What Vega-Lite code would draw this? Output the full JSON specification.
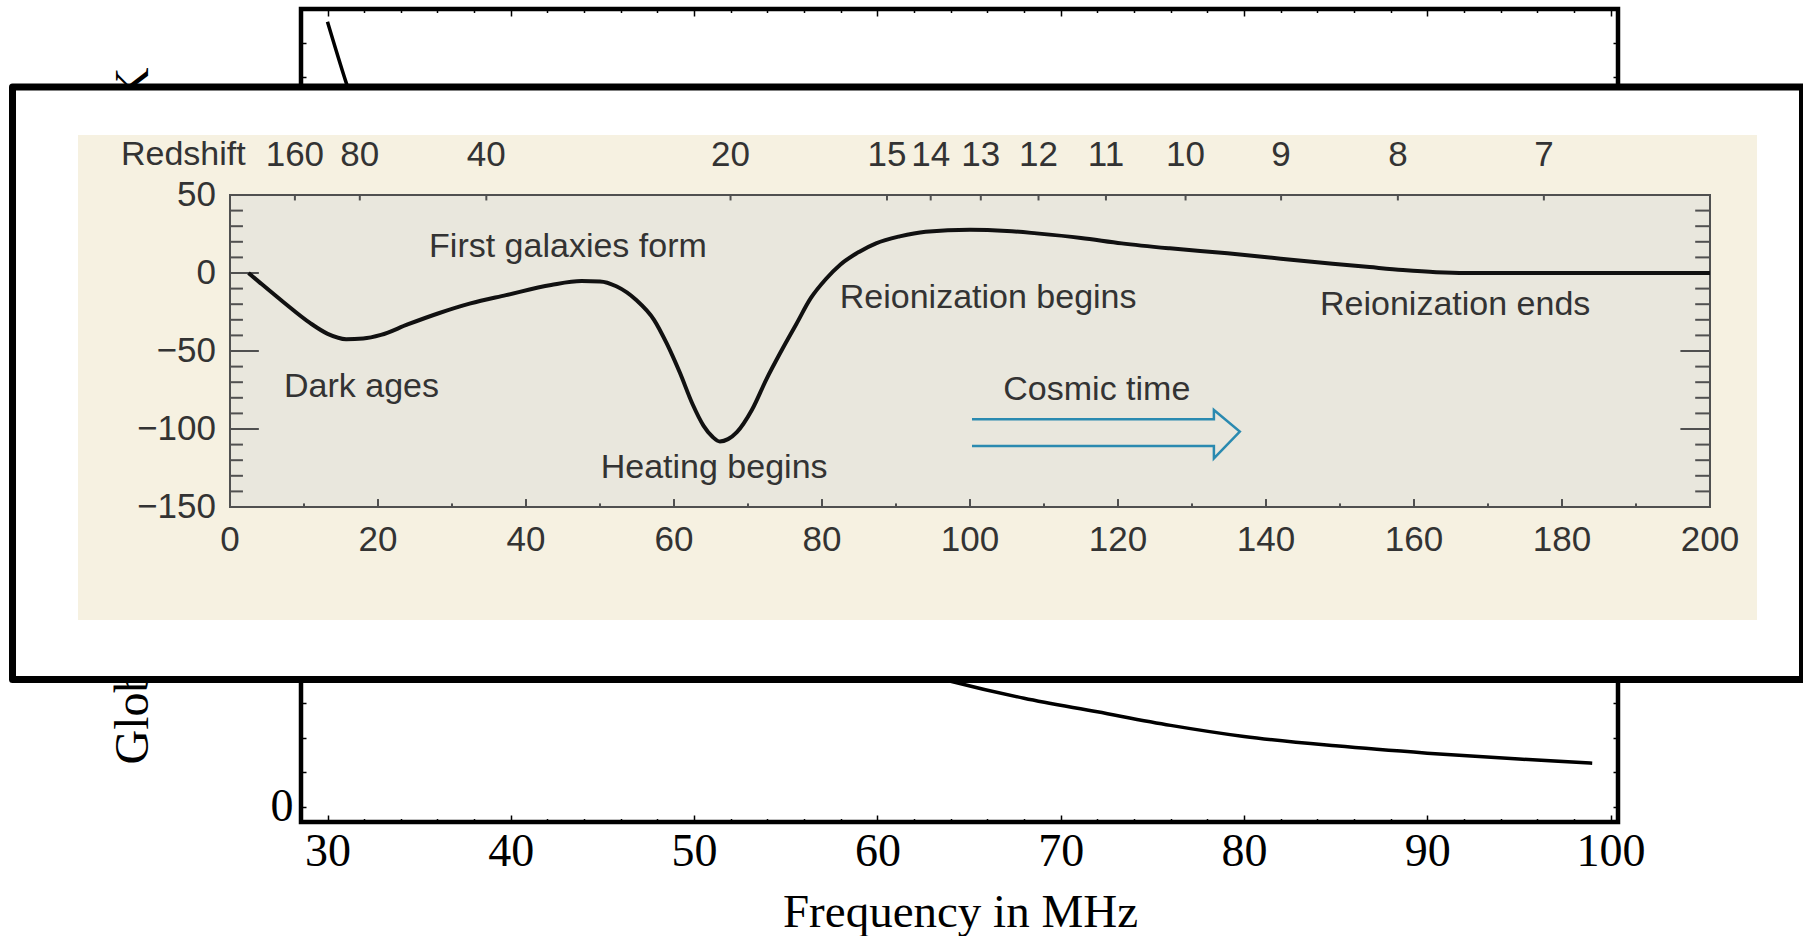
{
  "$schema": "https://vega.github.io/schema/vega-lite/v6.json",
  "width": 1317,
  "height": 813,
  "autosize": {"type": "none"},
  "padding": {"left": 301, "top": 9, "right": 185, "bottom": 114},
  "background": "#ffffff",
  "config": {"view": {"stroke": "#000000", "strokeWidth": 4.5, "fill": null}},
  "datasets": {
    "sky": [
      {"freq": 30, "temp": 22.6}, {"freq": 31, "temp": 20.88}, {"freq": 32, "temp": 19.33}, {"freq": 34, "temp": 16.69},
      {"freq": 36, "temp": 14.54}, {"freq": 38, "temp": 12.76}, {"freq": 40, "temp": 11.27}, {"freq": 43, "temp": 9.46},
      {"freq": 46, "temp": 8.03}, {"freq": 50, "temp": 6.57}, {"freq": 55, "temp": 5.21}, {"freq": 60, "temp": 4.22},
      {"freq": 64, "temp": 3.62}, {"freq": 68, "temp": 3.13}, {"freq": 72, "temp": 2.74}, {"freq": 76, "temp": 2.35},
      {"freq": 80, "temp": 2.03}, {"freq": 85, "temp": 1.76}, {"freq": 90, "temp": 1.55}, {"freq": 95, "temp": 1.38},
      {"freq": 99, "temp": 1.26}
    ],
    "box": [{"f": -29.39, "f2": 212.5, "b": 119.2, "b2": -260.6}],
    "photo": [{"f": -20.54, "f2": 206.35, "b": 88.46, "b2": -222.4}],
    "plotarea": [{"f": 0, "f2": 200, "b": 50, "b2": -150}],
    "curve": [
      {"f": 2.5, "b": 0}, {"f": 4, "b": -6}, {"f": 7.2, "b": -18.6}, {"f": 10.8, "b": -32}, {"f": 13.2, "b": -39},
      {"f": 15.7, "b": -42.4}, {"f": 18, "b": -42}, {"f": 20.4, "b": -39.7}, {"f": 24, "b": -33}, {"f": 28.2, "b": -25.8},
      {"f": 32.5, "b": -19.5}, {"f": 37.3, "b": -14.2}, {"f": 43.4, "b": -7.7}, {"f": 47.5, "b": -5.2}, {"f": 50, "b": -5.4},
      {"f": 52.2, "b": -8.5}, {"f": 54.9, "b": -17.3}, {"f": 57.3, "b": -30}, {"f": 59, "b": -45}, {"f": 60.8, "b": -64},
      {"f": 62.5, "b": -84}, {"f": 64, "b": -98}, {"f": 65.2, "b": -105}, {"f": 66.2, "b": -108}, {"f": 67.3, "b": -106.5},
      {"f": 68.5, "b": -102}, {"f": 70.5, "b": -88}, {"f": 72.5, "b": -68}, {"f": 74.5, "b": -50}, {"f": 76.5, "b": -33},
      {"f": 78.5, "b": -16}, {"f": 80.5, "b": -4}, {"f": 82.5, "b": 5.5}, {"f": 85, "b": 13.5}, {"f": 87.3, "b": 19},
      {"f": 90.5, "b": 23.5}, {"f": 94, "b": 26.5}, {"f": 100, "b": 27.8}, {"f": 105, "b": 27}, {"f": 109, "b": 25.4},
      {"f": 115, "b": 22.5}, {"f": 120.5, "b": 19}, {"f": 127, "b": 15.8}, {"f": 134.8, "b": 12.6}, {"f": 142, "b": 9.2},
      {"f": 149, "b": 6}, {"f": 154, "b": 3.8}, {"f": 158.5, "b": 1.9}, {"f": 163, "b": 0.5}, {"f": 167, "b": 0},
      {"f": 180, "b": 0}, {"f": 200, "b": 0}
    ],
    "xticks": [
      {"f": 10, "major": false}, {"f": 20, "major": true}, {"f": 30, "major": false}, {"f": 40, "major": true},
      {"f": 50, "major": false}, {"f": 60, "major": true}, {"f": 70, "major": false}, {"f": 80, "major": true},
      {"f": 90, "major": false}, {"f": 100, "major": true}, {"f": 110, "major": false}, {"f": 120, "major": true},
      {"f": 130, "major": false}, {"f": 140, "major": true}, {"f": 150, "major": false}, {"f": 160, "major": true},
      {"f": 170, "major": false}, {"f": 180, "major": true}, {"f": 190, "major": false}
    ],
    "yticks": [
      {"b": 40, "major": false}, {"b": 30, "major": false}, {"b": 20, "major": false}, {"b": 10, "major": false},
      {"b": 0, "major": true}, {"b": -10, "major": false}, {"b": -20, "major": false}, {"b": -30, "major": false},
      {"b": -40, "major": false}, {"b": -50, "major": true}, {"b": -60, "major": false}, {"b": -70, "major": false},
      {"b": -80, "major": false}, {"b": -90, "major": false}, {"b": -100, "major": true}, {"b": -110, "major": false},
      {"b": -120, "major": false}, {"b": -130, "major": false}, {"b": -140, "major": false}
    ],
    "zticks": [
      {"f": 8.77, "z": "160"}, {"f": 17.54, "z": "80"}, {"f": 34.64, "z": "40"}, {"f": 67.64, "z": "20"},
      {"f": 88.78, "z": "15"}, {"f": 94.69, "z": "14"}, {"f": 101.46, "z": "13"}, {"f": 109.26, "z": "12"},
      {"f": 118.37, "z": "11"}, {"f": 129.13, "z": "10"}, {"f": 142.04, "z": "9"}, {"f": 157.82, "z": "8"},
      {"f": 177.55, "z": "7"}
    ],
    "xlabels": [
      {"f": 0, "label": "0"}, {"f": 20, "label": "20"}, {"f": 40, "label": "40"}, {"f": 60, "label": "60"},
      {"f": 80, "label": "80"}, {"f": 100, "label": "100"}, {"f": 120, "label": "120"}, {"f": 140, "label": "140"},
      {"f": 160, "label": "160"}, {"f": 180, "label": "180"}, {"f": 200, "label": "200"}
    ],
    "ylabels": [
      {"b": 50, "label": "50"}, {"b": 0, "label": "0"}, {"b": -50, "label": "−50"}, {"b": -100, "label": "−100"},
      {"b": -150, "label": "−150"}
    ],
    "notes": [
      {"f": -14.73, "b": 75.64, "text": "Redshift"},
      {"f": 26.9, "b": 16.7, "text": "First galaxies form"},
      {"f": 82.4, "b": -16.0, "text": "Reionization begins"},
      {"f": 147.3, "b": -20.5, "text": "Reionization ends"},
      {"f": 7.3, "b": -73.1, "text": "Dark ages"},
      {"f": 50.1, "b": -125, "text": "Heating begins"},
      {"f": 104.5, "b": -75, "text": "Cosmic time"}
    ],
    "arrow": [
      {"i": 0, "f": 100.27, "b": -93.8}, {"i": 1, "f": 132.96, "b": -93.8}, {"i": 2, "f": 132.96, "b": -87.8},
      {"i": 3, "f": 136.46, "b": -101.7}, {"i": 4, "f": 132.96, "b": -118.8}, {"i": 5, "f": 132.96, "b": -110.9},
      {"i": 6, "f": 100.27, "b": -110.9}
    ]
  },
  "layer": [
    {
      "layer": [
        {
          "data": {"name": "sky"},
          "mark": {"type": "line", "color": "#000000", "strokeWidth": 3.5, "interpolate": "monotone"},
          "encoding": {
            "x": {"field": "freq", "type": "quantitative", "scale": {"domain": [28.554, 100.407], "nice": false, "zero": false},
              "axis": {"orient": "bottom", "values": [30,32,34,36,38,40,42,44,46,48,50,52,54,56,58,60,62,64,66,68,70,72,74,76,78,80,82,84,86,88,90,92,94,96,98,100],
                "labelExpr": "datum.value % 10 === 0 ? datum.label : ''",
                "tickSize": {"condition": {"test": "datum.value % 10 === 0", "value": -7}, "value": -3.5},
                "tickColor": "#000000", "tickWidth": 1.5, "domain": false, "grid": false,
                "labelFont": "Liberation Serif", "labelFontSize": 46, "labelColor": "#000000", "labelBaseline": "alphabetic",
                "labelPadding": 50, "labelOverlap": false, "labelFlush": false, "labelBound": false,
                "title": "Frequency in MHz", "titleFont": "Liberation Serif", "titleFontSize": 47, "titleFontWeight": "normal",
                "titleColor": "#000000", "titleX": 659, "titleY": 104, "titleAlign": "center", "titleBaseline": "alphabetic", "zindex": 0}},
            "y": {"field": "temp", "type": "quantitative", "scale": {"domain": [-0.432, 22.97], "nice": false, "zero": false},
              "axis": {"orient": "left", "values": [0,1,2,3,4,5,6,7,8,9,10,11,12,13,14,15,16,17,18,19,20,21,22],
                "labelExpr": "datum.value % 5 === 0 ? datum.label : ''",
                "tickSize": -5, "tickColor": "#000000", "tickWidth": 1.5, "domain": false, "grid": false,
                "labelFont": "Liberation Serif", "labelFontSize": 46, "labelColor": "#000000", "labelBaseline": "middle",
                "labelPadding": 13, "labelOverlap": false, "labelFlush": false, "labelBound": false,
                "title": "Global Brightness Temperature in K", "titleFont": "Liberation Serif", "titleFontSize": 48, "titleFontWeight": "normal",
                "titleColor": "#000000", "titleX": -154, "titleY": 406.5, "titleAngle": 270, "titleAlign": "center", "titleBaseline": "alphabetic", "zindex": 0}}
          }
        },
        {
          "data": {"name": "sky"},
          "mark": {"type": "line", "strokeOpacity": 0},
          "encoding": {
            "x": {"field": "freq", "type": "quantitative", "scale": {"domain": [28.554, 100.407], "nice": false, "zero": false},
              "axis": {"orient": "top", "values": [30,32,34,36,38,40,42,44,46,48,50,52,54,56,58,60,62,64,66,68,70,72,74,76,78,80,82,84,86,88,90,92,94,96,98,100],
                "labels": false, "title": null,
                "tickSize": {"condition": {"test": "datum.value % 10 === 0", "value": -7}, "value": -3.5},
                "tickColor": "#000000", "tickWidth": 1.5, "domain": false, "grid": false, "zindex": 0}},
            "y": {"field": "temp", "type": "quantitative", "scale": {"domain": [-0.432, 22.97], "nice": false, "zero": false},
              "axis": {"orient": "right", "values": [0,1,2,3,4,5,6,7,8,9,10,11,12,13,14,15,16,17,18,19,20,21,22],
                "labels": false, "title": null, "tickSize": -5, "tickColor": "#000000", "tickWidth": 1.5, "domain": false, "grid": false, "zindex": 0}}
          }
        }
      ],
      "resolve": {"axis": {"x": "independent", "y": "independent"}}
    },
    {
      "layer": [
        {
          "data": {"name": "box"},
          "mark": {"type": "rect", "fill": "#ffffff", "stroke": "#000000", "strokeWidth": 7, "strokeJoin": "round"},
          "encoding": {
            "x": {"field": "f", "type": "quantitative", "scale": {"domain": [9.595, 187.568], "nice": false, "zero": false}, "axis": null},
            "x2": {"field": "f2"},
            "y": {"field": "b", "type": "quantitative", "scale": {"domain": [-351.92, 169.23], "nice": false, "zero": false}, "axis": null},
            "y2": {"field": "b2"}
          }
        },
        {
          "data": {"name": "photo"},
          "mark": {"type": "rect", "fill": "#f6f1e1"},
          "encoding": {
            "x": {"field": "f", "type": "quantitative", "scale": {"domain": [9.595, 187.568], "nice": false, "zero": false}, "axis": null},
            "x2": {"field": "f2"},
            "y": {"field": "b", "type": "quantitative", "scale": {"domain": [-351.92, 169.23], "nice": false, "zero": false}, "axis": null},
            "y2": {"field": "b2"}
          }
        },
        {
          "data": {"name": "plotarea"},
          "mark": {"type": "rect", "fill": "#e9e7dd", "stroke": "#505050", "strokeWidth": 2},
          "encoding": {
            "x": {"field": "f", "type": "quantitative", "scale": {"domain": [9.595, 187.568], "nice": false, "zero": false}, "axis": null},
            "x2": {"field": "f2"},
            "y": {"field": "b", "type": "quantitative", "scale": {"domain": [-351.92, 169.23], "nice": false, "zero": false}, "axis": null},
            "y2": {"field": "b2"}
          }
        },
        {
          "mark": {"type": "rule", "color": "#777777", "strokeWidth": 3},
          "encoding": {
            "x": {"datum": 206.2, "type": "quantitative", "scale": {"domain": [9.595, 187.568], "nice": false, "zero": false}, "axis": null},
            "y": {"datum": 88.46, "type": "quantitative", "scale": {"domain": [-351.92, 169.23], "nice": false, "zero": false}, "axis": null},
            "y2": {"datum": 64.7}
          }
        },
        {
          "data": {"name": "xticks"},
          "transform": [{"filter": "!datum.major"}],
          "mark": {"type": "rule", "color": "#505050", "strokeWidth": 2},
          "encoding": {
            "x": {"field": "f", "type": "quantitative", "scale": {"domain": [9.595, 187.568], "nice": false, "zero": false}, "axis": null},
            "y": {"datum": -150, "type": "quantitative", "scale": {"domain": [-351.92, 169.23], "nice": false, "zero": false}, "axis": null},
            "y2": {"datum": -147.7}
          }
        },
        {
          "data": {"name": "xticks"},
          "transform": [{"filter": "datum.major"}],
          "mark": {"type": "rule", "color": "#505050", "strokeWidth": 2},
          "encoding": {
            "x": {"field": "f", "type": "quantitative", "scale": {"domain": [9.595, 187.568], "nice": false, "zero": false}, "axis": null},
            "y": {"datum": -150, "type": "quantitative", "scale": {"domain": [-351.92, 169.23], "nice": false, "zero": false}, "axis": null},
            "y2": {"datum": -144.9}
          }
        },
        {
          "data": {"name": "zticks"},
          "mark": {"type": "rule", "color": "#505050", "strokeWidth": 2},
          "encoding": {
            "x": {"field": "f", "type": "quantitative", "scale": {"domain": [9.595, 187.568], "nice": false, "zero": false}, "axis": null},
            "y": {"datum": 50, "type": "quantitative", "scale": {"domain": [-351.92, 169.23], "nice": false, "zero": false}, "axis": null},
            "y2": {"datum": 46.5}
          }
        },
        {
          "data": {"name": "yticks"},
          "transform": [{"filter": "!datum.major"}],
          "mark": {"type": "rule", "color": "#505050", "strokeWidth": 2},
          "encoding": {
            "y": {"field": "b", "type": "quantitative", "scale": {"domain": [-351.92, 169.23], "nice": false, "zero": false}, "axis": null},
            "x": {"datum": 0, "type": "quantitative", "scale": {"domain": [9.595, 187.568], "nice": false, "zero": false}, "axis": null},
            "x2": {"datum": 1.75}
          }
        },
        {
          "data": {"name": "yticks"},
          "transform": [{"filter": "datum.major"}],
          "mark": {"type": "rule", "color": "#505050", "strokeWidth": 2},
          "encoding": {
            "y": {"field": "b", "type": "quantitative", "scale": {"domain": [-351.92, 169.23], "nice": false, "zero": false}, "axis": null},
            "x": {"datum": 0, "type": "quantitative", "scale": {"domain": [9.595, 187.568], "nice": false, "zero": false}, "axis": null},
            "x2": {"datum": 3.9}
          }
        },
        {
          "data": {"name": "yticks"},
          "transform": [{"filter": "!datum.major"}],
          "mark": {"type": "rule", "color": "#505050", "strokeWidth": 2},
          "encoding": {
            "y": {"field": "b", "type": "quantitative", "scale": {"domain": [-351.92, 169.23], "nice": false, "zero": false}, "axis": null},
            "x": {"datum": 200, "type": "quantitative", "scale": {"domain": [9.595, 187.568], "nice": false, "zero": false}, "axis": null},
            "x2": {"datum": 198.0}
          }
        },
        {
          "data": {"name": "yticks"},
          "transform": [{"filter": "datum.major"}],
          "mark": {"type": "rule", "color": "#505050", "strokeWidth": 2},
          "encoding": {
            "y": {"field": "b", "type": "quantitative", "scale": {"domain": [-351.92, 169.23], "nice": false, "zero": false}, "axis": null},
            "x": {"datum": 200, "type": "quantitative", "scale": {"domain": [9.595, 187.568], "nice": false, "zero": false}, "axis": null},
            "x2": {"datum": 196.0}
          }
        },
        {
          "data": {"name": "curve"},
          "mark": {"type": "line", "color": "#111111", "strokeWidth": 4, "interpolate": "monotone"},
          "encoding": {
            "x": {"field": "f", "type": "quantitative", "scale": {"domain": [9.595, 187.568], "nice": false, "zero": false}, "axis": null},
            "y": {"field": "b", "type": "quantitative", "scale": {"domain": [-351.92, 169.23], "nice": false, "zero": false}, "axis": null}
          }
        },
        {
          "data": {"name": "arrow"},
          "mark": {"type": "line", "color": "#2a8ab0", "strokeWidth": 2.5, "strokeJoin": "miter"},
          "encoding": {
            "x": {"field": "f", "type": "quantitative", "scale": {"domain": [9.595, 187.568], "nice": false, "zero": false}, "axis": null},
            "y": {"field": "b", "type": "quantitative", "scale": {"domain": [-351.92, 169.23], "nice": false, "zero": false}, "axis": null},
            "order": {"field": "i", "type": "quantitative"}
          }
        },
        {
          "data": {"name": "ylabels"},
          "mark": {"type": "text", "font": "Liberation Sans", "fontSize": 35, "color": "#333333", "align": "right", "baseline": "middle"},
          "encoding": {
            "x": {"datum": -1.9, "type": "quantitative", "scale": {"domain": [9.595, 187.568], "nice": false, "zero": false}, "axis": null},
            "y": {"field": "b", "type": "quantitative", "scale": {"domain": [-351.92, 169.23], "nice": false, "zero": false}, "axis": null},
            "text": {"field": "label"}
          }
        },
        {
          "data": {"name": "xlabels"},
          "mark": {"type": "text", "font": "Liberation Sans", "fontSize": 35, "color": "#333333", "align": "center", "baseline": "middle"},
          "encoding": {
            "x": {"field": "f", "type": "quantitative", "scale": {"domain": [9.595, 187.568], "nice": false, "zero": false}, "axis": null},
            "y": {"datum": -171.15, "type": "quantitative", "scale": {"domain": [-351.92, 169.23], "nice": false, "zero": false}, "axis": null},
            "text": {"field": "label"}
          }
        },
        {
          "data": {"name": "zticks"},
          "mark": {"type": "text", "font": "Liberation Sans", "fontSize": 35, "color": "#333333", "align": "center", "baseline": "middle"},
          "encoding": {
            "x": {"field": "f", "type": "quantitative", "scale": {"domain": [9.595, 187.568], "nice": false, "zero": false}, "axis": null},
            "y": {"datum": 75.64, "type": "quantitative", "scale": {"domain": [-351.92, 169.23], "nice": false, "zero": false}, "axis": null},
            "text": {"field": "z"}
          }
        },
        {
          "data": {"name": "notes"},
          "mark": {"type": "text", "font": "Liberation Sans", "fontSize": 34, "color": "#333333", "align": "left", "baseline": "middle"},
          "encoding": {
            "x": {"field": "f", "type": "quantitative", "scale": {"domain": [9.595, 187.568], "nice": false, "zero": false}, "axis": null},
            "y": {"field": "b", "type": "quantitative", "scale": {"domain": [-351.92, 169.23], "nice": false, "zero": false}, "axis": null},
            "text": {"field": "text"}
          }
        },
        {
          "mark": {"type": "text", "font": "Liberation Sans", "fontSize": 34, "color": "#333333", "align": "center", "baseline": "middle", "text": "Frequency (MHz)"},
          "encoding": {
            "x": {"datum": 99.46, "type": "quantitative", "scale": {"domain": [9.595, 187.568], "nice": false, "zero": false}, "axis": null},
            "y": {"datum": -203.2, "type": "quantitative", "scale": {"domain": [-351.92, 169.23], "nice": false, "zero": false}, "axis": null}
          }
        },
        {
          "mark": {"type": "text", "font": "Liberation Sans", "fontSize": 34, "color": "#333333", "align": "center", "baseline": "middle", "angle": 270, "text": "Brightness (mK)"},
          "encoding": {
            "x": {"datum": -18, "type": "quantitative", "scale": {"domain": [9.595, 187.568], "nice": false, "zero": false}, "axis": null},
            "y": {"datum": -55, "type": "quantitative", "scale": {"domain": [-351.92, 169.23], "nice": false, "zero": false}, "axis": null}
          }
        }
      ]
    }
  ],
  "resolve": {"scale": {"x": "independent", "y": "independent"}}
}
